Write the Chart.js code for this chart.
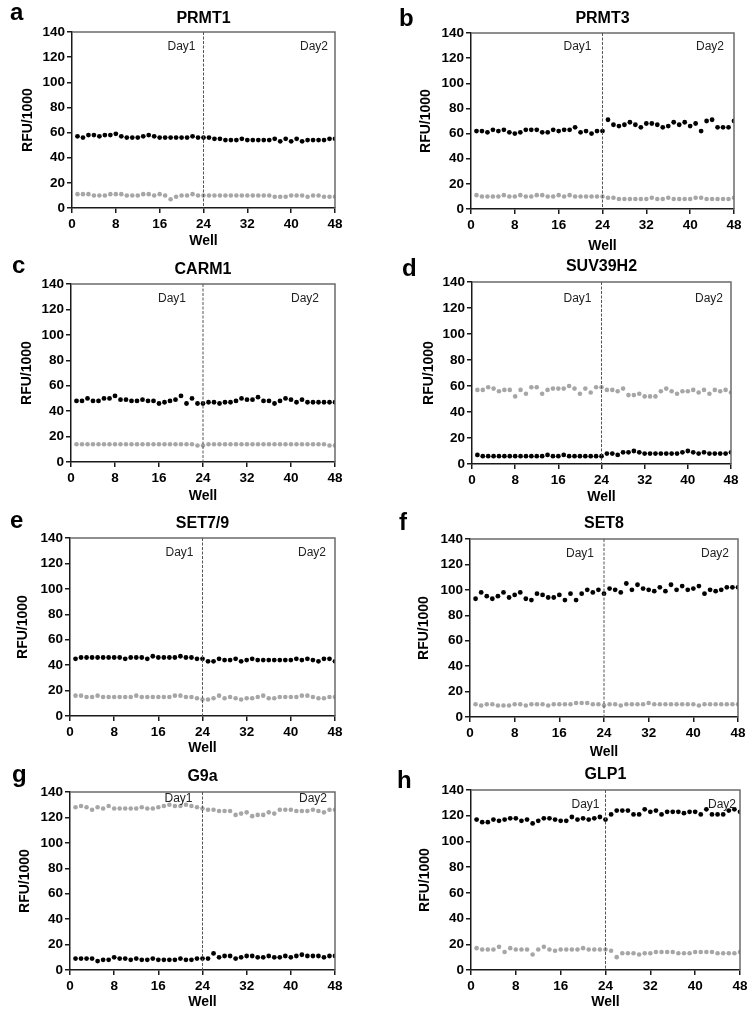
<!DOCTYPE html>
<html>
<head>
<meta charset="utf-8">
<title>RFU per well</title>
<script src="https://cdn.jsdelivr.net/npm/chart.js@4.4.1/dist/chart.umd.min.js"></script>
<style>
  body {
    margin: 0;
    background: #fff;
    font-family: "Liberation Sans", Arial, sans-serif;
  }
  #figure {
    position: relative;
    width: 754px;
    height: 1016px;
    overflow: hidden;
  }
  .panel-canvas {
    position: absolute;
  }
  .letter {
    position: absolute;
    font-size: 24px;
    line-height: 24px;
    font-weight: bold;
    color: #000;
  }
  .title {
    position: absolute;
    font-size: 16px;
    line-height: 16px;
    font-weight: bold;
    color: #000;
    white-space: nowrap;
    transform: translateX(-50%);
  }
</style>
</head>
<body>
<div id="figure"></div>
<script>
const wells = [
  1, 2, 3, 4, 5, 6, 7, 8, 9, 10, 11, 12, 13, 14, 15, 16, 17, 18, 19, 20, 21, 22, 23, 24,
  25, 26, 27, 28, 29, 30, 31, 32, 33, 34, 35, 36, 37, 38, 39, 40, 41, 42, 43, 44, 45, 46, 47, 48,
];
const xTicks = [0, 8, 16, 24, 32, 40, 48];
const yTicks = [0, 20, 40, 60, 80, 100, 120, 140];
const dayLabels = ["Day1", "Day2"];
const dayBoundary = 24;

// black dots / grey dots, one value per well
const prmt1Dark = [
  57, 56, 58, 58, 57, 58, 58, 59, 57, 56, 56, 56, 57, 58, 57, 56, 56, 56, 56, 56, 56, 57, 56, 56,
  56, 55, 55, 54, 54, 54, 55, 54, 54, 54, 54, 54, 55, 53, 55, 53, 55, 53, 54, 54, 54, 54, 55, 55,
];
const prmt1Light = [
  11, 11, 11, 10, 10, 10, 11, 11, 11, 10, 10, 10, 11, 11, 10, 11, 10, 7, 9, 10, 10, 11, 10, 10,
  10, 10, 10, 10, 10, 10, 10, 10, 10, 10, 10, 10, 9, 9, 9, 10, 10, 10, 9, 10, 10, 9, 9, 9,
];
const prmt3Dark = [
  62, 62, 61, 63, 62, 63, 61, 60, 61, 63, 63, 63, 61, 61, 63, 62, 63, 63, 65, 61, 62, 60, 62, 62,
  71, 67, 66, 67, 69, 67, 65, 68, 68, 67, 65, 66, 69, 67, 69, 66, 68, 62, 70, 71, 65, 65, 65, 70,
];
const prmt3Light = [
  11, 10, 10, 10, 10, 11, 10, 10, 11, 10, 10, 11, 11, 10, 10, 11, 10, 11, 10, 10, 10, 10, 10, 10,
  9, 9, 8, 8, 8, 8, 8, 8, 9, 8, 8, 9, 8, 8, 8, 8, 9, 9, 8, 8, 8, 8, 8, 9,
];
const carm1Dark = [
  48, 48, 50, 48, 48, 50, 50, 52, 49, 49, 48, 48, 49, 48, 48, 46, 47, 48, 49, 52, 46, 50, 46, 46,
  47, 47, 46, 47, 47, 48, 50, 49, 49, 51, 48, 48, 46, 48, 50, 49, 47, 49, 47, 47, 47, 47, 47, 47,
];
const carm1Light = [
  14, 14, 14, 14, 14, 14, 14, 14, 14, 14, 14, 14, 14, 14, 14, 14, 14, 14, 14, 14, 14, 14, 13, 13,
  14, 14, 14, 14, 14, 14, 14, 14, 14, 14, 14, 14, 14, 14, 14, 14, 14, 14, 14, 14, 14, 14, 13, 13,
];
const suv39h2Dark = [
  7, 6, 6, 6, 6, 6, 6, 6, 6, 6, 6, 6, 6, 7, 6, 6, 7, 6, 6, 6, 6, 6, 6, 6,
  8, 8, 7, 9, 9, 10, 9, 8, 8, 8, 8, 8, 8, 8, 9, 10, 9, 8, 9, 8, 8, 8, 8, 9,
];
const suv39h2Light = [
  57, 57, 59, 58, 56, 57, 57, 52, 57, 54, 59, 59, 54, 57, 58, 58, 58, 60, 58, 54, 58, 55, 59, 59,
  57, 57, 56, 58, 53, 53, 54, 52, 52, 52, 56, 58, 56, 54, 56, 56, 57, 55, 57, 54, 57, 56, 57, 55,
];
const set79Dark = [
  45, 46, 46, 46, 46, 46, 46, 46, 46, 45, 46, 46, 46, 45, 47, 46, 46, 46, 46, 47, 46, 46, 45, 45,
  43, 43, 45, 44, 44, 45, 43, 44, 45, 44, 44, 44, 44, 44, 44, 44, 45, 44, 45, 44, 43, 45, 45, 43,
];
const set79Light = [
  16, 16, 15, 15, 16, 15, 15, 15, 15, 15, 15, 16, 15, 15, 15, 15, 15, 15, 16, 16, 15, 15, 14, 13,
  13, 14, 16, 14, 15, 14, 13, 14, 14, 15, 16, 14, 14, 15, 15, 15, 15, 16, 16, 15, 14, 14, 15, 15,
];
const set8Dark = [
  93, 98, 95, 93, 95, 98, 94, 96, 98, 93, 92, 97, 96, 94, 94, 96, 92, 97, 92, 97, 100, 98, 100, 97,
  101, 100, 98, 105, 100, 104, 101, 100, 99, 102, 99, 104, 100, 103, 100, 101, 103, 97, 100, 99, 100, 102, 102, 102,
];
const set8Light = [
  10, 9, 10, 10, 9, 9, 9, 10, 10, 9, 10, 10, 10, 9, 10, 10, 10, 10, 11, 11, 11, 10, 10, 9,
  10, 10, 9, 10, 10, 10, 10, 11, 10, 10, 10, 10, 10, 10, 10, 10, 9, 10, 10, 10, 10, 10, 10, 10,
];
const g9aDark = [
  9, 9, 9, 9, 7, 8, 8, 10, 9, 9, 8, 9, 8, 8, 9, 8, 8, 8, 8, 9, 8, 8, 9, 9,
  9, 13, 10, 11, 11, 9, 10, 11, 11, 10, 10, 11, 10, 10, 11, 10, 11, 12, 11, 11, 11, 10, 11, 11,
];
const g9aLight = [
  128, 129, 128, 126, 128, 127, 129, 127, 127, 127, 127, 127, 128, 127, 127, 128, 129, 130, 129, 129, 130, 129, 128, 127,
  126, 126, 125, 125, 125, 122, 123, 124, 121, 122, 122, 124, 123, 126, 126, 126, 125, 125, 125, 126, 125, 124, 126, 126,
];
const glp1Dark = [
  117, 115, 115, 117, 116, 117, 118, 118, 116, 117, 114, 116, 118, 118, 117, 116, 116, 119, 117, 118, 117, 118, 119, 117,
  121, 124, 124, 124, 121, 121, 125, 123, 124, 121, 123, 123, 123, 122, 123, 123, 121, 125, 121, 121, 121, 124, 125, 123,
];
const glp1Light = [
  17, 16, 16, 16, 18, 14, 17, 16, 16, 16, 12, 16, 18, 16, 15, 16, 16, 16, 16, 17, 16, 16, 16, 16,
  15, 10, 13, 13, 13, 12, 13, 13, 14, 14, 14, 14, 13, 13, 13, 14, 14, 14, 14, 13, 13, 13, 13, 14,
];

// layout of each panel on the page (px); area = plot box inside the panel
const panels = [
  { letter: "a", name: "PRMT1", dark: prmt1Dark, light: prmt1Light, x: 0, y: 0,
    area: { left: 72, right: 335, top: 32, bottom: 208 }, letterPos: [10, 0], titleY: 10,
    yTitleX: 28, wellY: 241, day: { gap1: 8, gap2: 7, dy: 15 } },
  { letter: "b", name: "PRMT3", dark: prmt3Dark, light: prmt3Light, x: 377, y: 0,
    area: { left: 94, right: 357, top: 33, bottom: 209 }, letterPos: [22, 6], titleY: 10,
    yTitleX: 49, wellY: 246, day: { gap1: 11, gap2: 10, dy: 14 } },
  { letter: "c", name: "CARM1", dark: carm1Dark, light: carm1Light, x: 0, y: 255,
    area: { left: 71, right: 335, top: 29, bottom: 207 }, letterPos: [12, -2], titleY: 6,
    yTitleX: 27, wellY: 241, day: { gap1: 17, gap2: 16, dy: 15 } },
  { letter: "d", name: "SUV39H2", dark: suv39h2Dark, light: suv39h2Light, x: 377, y: 255,
    area: { left: 95, right: 354, top: 27, bottom: 209 }, letterPos: [25, 1], titleY: 3,
    yTitleX: 52, wellY: 242, day: { gap1: 10, gap2: 8, dy: 17 } },
  { letter: "e", name: "SET7/9", dark: set79Dark, light: set79Light, x: 0, y: 505,
    area: { left: 70, right: 335, top: 33, bottom: 211 }, letterPos: [10, 3], titleY: 10,
    yTitleX: 23, wellY: 243, day: { gap1: 9, gap2: 9, dy: 15 } },
  { letter: "f", name: "SET8", dark: set8Dark, light: set8Light, x: 377, y: 505,
    area: { left: 93, right: 361, top: 34, bottom: 212 }, letterPos: [22, 5], titleY: 10,
    yTitleX: 47, wellY: 248, day: { gap1: 10, gap2: 9, dy: 15 } },
  { letter: "g", name: "G9a", dark: g9aDark, light: g9aLight, x: 0, y: 760,
    area: { left: 70, right: 335, top: 32, bottom: 210 }, letterPos: [12, 2], titleY: 8,
    yTitleX: 25, wellY: 242, day: { gap1: 10, gap2: 8, dy: 7 } },
  { letter: "h", name: "GLP1", dark: glp1Dark, light: glp1Light, x: 377, y: 760,
    area: { left: 94, right: 363, top: 30, bottom: 210 }, letterPos: [20, 8], titleY: 6,
    yTitleX: 48, wellY: 242, day: { gap1: 6, gap2: 4, dy: 15 } },
];

const PANEL_W = 377;
const PANEL_H = 256;
const FONT = "'Liberation Sans', Arial, sans-serif";

// top/right frame, dashed day boundary and Day1/Day2 labels
const framePlugin = {
  id: "frame",
  afterDatasetsDraw(chart, args, opts) {
    const { ctx, chartArea, scales } = chart;
    const xLine = scales.x.getPixelForValue(dayBoundary);
    ctx.save();
    ctx.strokeStyle = "#6b6b6b";
    ctx.lineWidth = 1.5;
    ctx.beginPath();
    ctx.moveTo(chartArea.left, chartArea.top);
    ctx.lineTo(chartArea.right, chartArea.top);
    ctx.lineTo(chartArea.right, chartArea.bottom);
    ctx.stroke();

    ctx.strokeStyle = "#555";
    ctx.lineWidth = 1;
    ctx.setLineDash([3, 1.5]);
    ctx.beginPath();
    ctx.moveTo(xLine, chartArea.top);
    ctx.lineTo(xLine, chartArea.bottom);
    ctx.stroke();
    ctx.setLineDash([]);

    ctx.fillStyle = "#222";
    ctx.font = `12px ${FONT}`;
    ctx.textAlign = "right";
    ctx.textBaseline = "middle";
    const yText = chartArea.top + opts.dy;
    ctx.fillText(dayLabels[0], xLine - opts.gap1, yText);
    ctx.fillText(dayLabels[1], chartArea.right - opts.gap2, yText);
    ctx.restore();
  },
};

const figure = document.getElementById("figure");

const toPoints = (values) => values.map((v, i) => ({ x: wells[i], y: v }));

panels.forEach((p) => {
  const canvas = document.createElement("canvas");
  canvas.className = "panel-canvas";
  canvas.width = PANEL_W;
  canvas.height = PANEL_H;
  canvas.style.left = `${p.x}px`;
  canvas.style.top = `${p.y}px`;
  canvas.style.width = `${PANEL_W}px`;
  canvas.style.height = `${PANEL_H}px`;
  figure.appendChild(canvas);

  const letter = document.createElement("div");
  letter.className = "letter";
  letter.textContent = p.letter;
  letter.style.left = `${p.x + p.letterPos[0]}px`;
  letter.style.top = `${p.y + p.letterPos[1]}px`;
  figure.appendChild(letter);

  const title = document.createElement("div");
  title.className = "title";
  title.textContent = p.name;
  title.style.left = `${p.x + (p.area.left + p.area.right) / 2}px`;
  title.style.top = `${p.y + p.titleY}px`;
  figure.appendChild(title);

  const axisFont = { family: FONT, size: 14, weight: "bold" };
  const tickFont = { family: FONT, size: 13.5, weight: "bold" };

  new Chart(canvas, {
    type: "scatter",
    data: {
      datasets: [
        {
          data: toPoints(p.light),
          backgroundColor: "#a6a6a6",
          borderWidth: 0,
          pointRadius: 2.3,
        },
        {
          data: toPoints(p.dark),
          backgroundColor: "#000",
          borderWidth: 0,
          pointRadius: 2.4,
        },
      ],
    },
    options: {
      responsive: false,
      animation: false,
      devicePixelRatio: 1,
      layout: {
        padding: { left: 0, top: p.area.top, right: PANEL_W - p.area.right, bottom: 0 },
      },
      plugins: {
        legend: { display: false },
        tooltip: { enabled: false },
        frame: p.day,
      },
      scales: {
        x: {
          type: "linear",
          min: xTicks[0],
          max: xTicks[xTicks.length - 1],
          afterBuildTicks: (axis) => {
            axis.ticks = xTicks.map((v) => ({ value: v }));
          },
          afterFit: (axis) => {
            axis.height = PANEL_H - p.area.bottom;
          },
          border: { display: true, color: "#1a1a1a", width: 1.5 },
          grid: { drawOnChartArea: false, drawTicks: true, tickLength: 5, color: "#1a1a1a", lineWidth: 1.5 },
          ticks: { color: "#000", font: tickFont, padding: 3, maxRotation: 0 },
          title: {
            display: true,
            text: "Well",
            color: "#000",
            font: axisFont,
            padding: { top: 0, bottom: Math.max(0, PANEL_H - p.wellY - 8.4) },
          },
        },
        y: {
          min: yTicks[0],
          max: yTicks[yTicks.length - 1],
          afterBuildTicks: (axis) => {
            axis.ticks = yTicks.map((v) => ({ value: v }));
          },
          afterFit: (axis) => {
            axis.width = p.area.left;
          },
          border: { display: true, color: "#1a1a1a", width: 1.5 },
          grid: { drawOnChartArea: false, drawTicks: true, tickLength: 5, color: "#1a1a1a", lineWidth: 1.5 },
          ticks: { color: "#000", font: tickFont, padding: 2 },
          title: {
            display: true,
            text: "RFU/1000",
            color: "#000",
            font: axisFont,
            padding: { top: Math.max(0, p.yTitleX - 8.4), bottom: 0 },
          },
        },
      },
    },
    plugins: [framePlugin],
  });
});
</script>
</body>
</html>
